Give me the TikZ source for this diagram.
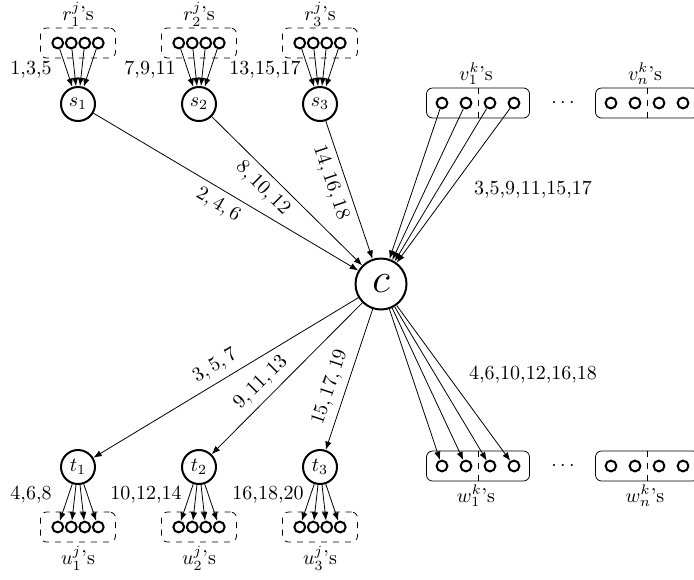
\documentclass[tikz,border=0pt]{standalone}
\usetikzlibrary{arrows.meta}
\begin{document}
\begin{tikzpicture}[x=0.5pt,y=-0.5pt,
  big/.style={draw,circle,line width=1pt,minimum size=17pt,inner sep=0pt},
  cnode/.style={draw,circle,line width=1pt,minimum size=25.5pt,inner sep=0pt,font=\huge},
  dot/.style={draw,circle,line width=1pt,minimum size=5.4pt,inner sep=0pt},
  dbox/.style={draw,dashed,rounded corners=3pt,minimum width=37.5pt,minimum height=15pt,inner sep=0pt},
  sbox/.style={draw,rounded corners=3pt,minimum width=51.5pt,minimum height=15pt,inner sep=0pt},
  arr/.style={-{Latex[length=4.2pt,width=3.2pt]}},
  lbl/.style={inner sep=1pt}]
\clip (0,0) rectangle (694,579);

\node[cnode] (c) at (381,284) {$c$};

% s / r groups
\foreach \i/\x in {1/78,2/199,3/320} {
  \node[dbox] (rb\i) at (\x,43) {};
  \node[big] (s\i) at (\x,104) {$s_\i$};
  \node (rl\i) at (\x,14) {$r_\i^j$'s};
  \foreach \k/\o in {1/-20.25,2/-6.75,3/6.75,4/20.25} {
    \node[dot] (r\i\k) at (\x+\o,43) {};
    \draw[arr] (r\i\k) -- (s\i);
  }
  \node[big] (t\i) at (\x,467) {$t_\i$};
  \node[dbox] (ub\i) at (\x,527) {};
  \node (ul\i) at (\x,558) {$u_\i^j$'s};
  \foreach \k/\o in {1/-20.25,2/-6.75,3/6.75,4/20.25} {
    \node[dot] (u\i\k) at (\x+\o,527) {};
    \draw[arr] (t\i) -- (u\i\k);
  }
}

\node[lbl,anchor=east] (la1) at (54,70) {1,3,5};
\node[lbl,anchor=east] (la2) at (178,70) {7,9,11};
\node[lbl,anchor=east] (la3) at (303,70) {13,15,17};
\node[lbl,anchor=east] (lb1) at (54,495) {4,6,8};
\node[lbl,anchor=east] (lb2) at (184,495) {10,12,14};
\node[lbl,anchor=east] (lb3) at (306,495) {16,18,20};

% s -> c
\draw[arr] (s1) -- node[sloped,below,pos=0.5] {$2,4,6$} (c);
\draw[arr] (s2) -- node[sloped,below,pos=0.41] {$8,10,12$} (c);
\draw[arr] (s3) -- node[sloped,below,pos=0.41] {$14,16,18$} (c);
% c -> t
\draw[arr] (c) -- node[sloped,above,pos=0.51] {$3,5,7$} (t1);
\draw[arr] (c) -- node[sloped,above,pos=0.6] {$9,11,13$} (t2);
\draw[arr] (c) -- node[sloped,above,pos=0.59] {$15,17,19$} (t3);

% v and w boxes
\foreach \n/\x/\s in {1/478/1,n/647/n} {
  \node[sbox] (vb\n) at (\x,103) {};
  \draw[dashed] (vb\n.north) -- (vb\n.south);
  \node (vl\n) at (\x-2,74) {$v_\s^k$'s};
  \node[sbox] (wb\n) at (\x,466) {};
  \draw[dashed] (wb\n.north) -- (wb\n.south);
  \node (wl\n) at (\x-2,496) {$w_\s^k$'s};
  \foreach \k/\o in {1/-36,2/-12,3/12,4/36} {
    \node[dot] (v\n\k) at (\x+\o,103) {};
    \node[dot] (w\n\k) at (\x+\o,466) {};
  }
}
\node (vdots) at (563,103) {$\cdots$};
\node (wdots) at (563,466) {$\cdots$};

\foreach \k in {1,2,3,4} {
  \draw[arr] (v1\k) -- (c);
  \draw[arr] (c) -- (w1\k);
}
\node (vlab) at (533,190) {3,5,9,11,15,17};
\node (wlab) at (533,375) {4,6,10,12,16,18};
\end{tikzpicture}
\end{document}
